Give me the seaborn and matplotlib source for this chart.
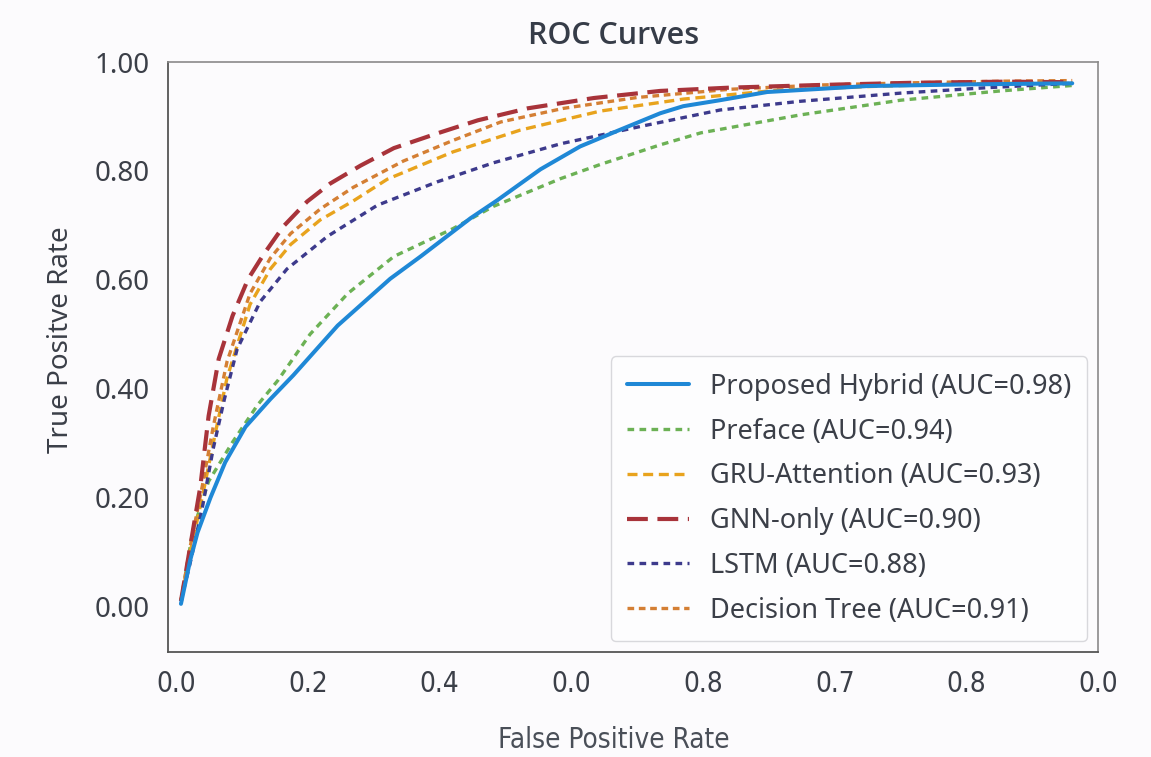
import numpy as np
import pandas as pd
import matplotlib
matplotlib.use("Agg")
import matplotlib.pyplot as plt
import seaborn as sns

# ---- data ----
models = ["Proposed Hybrid (AUC=0.98)", "Preface (AUC=0.94)", "GRU-Attention (AUC=0.93)",
          "GNN-only (AUC=0.90)", "LSTM (AUC=0.88)", "Decision Tree (AUC=0.91)"]

hybrid_fpr = [0.005, 0.015, 0.023, 0.037, 0.053, 0.075, 0.102, 0.127, 0.175, 0.232, 0.265, 0.319,
              0.348, 0.395, 0.438, 0.479, 0.525, 0.55, 0.59, 0.641, 0.75, 0.858, 0.972]
hybrid_tpr = [0.005, 0.085, 0.136, 0.2, 0.265, 0.33, 0.381, 0.425, 0.516, 0.602, 0.643, 0.713,
              0.746, 0.803, 0.845, 0.874, 0.906, 0.919, 0.93, 0.945, 0.956, 0.959, 0.961]

preface_fpr = [0.005, 0.018, 0.035, 0.061, 0.088, 0.11, 0.145, 0.186, 0.236, 0.3, 0.344,
               0.417, 0.46, 0.525, 0.569, 0.677, 0.786, 0.894, 0.972]
preface_tpr = [0.01, 0.14, 0.23, 0.302, 0.37, 0.415, 0.5, 0.575, 0.643, 0.694, 0.735,
               0.786, 0.812, 0.848, 0.87, 0.903, 0.93, 0.947, 0.957]

gru_fpr = [0.005, 0.015, 0.028, 0.04, 0.055, 0.08, 0.102, 0.124, 0.156, 0.192, 0.229,
           0.3, 0.373, 0.46, 0.55, 0.65, 0.75, 0.85, 0.972]
gru_tpr = [0.01, 0.1, 0.2, 0.3, 0.42, 0.555, 0.62, 0.665, 0.71, 0.745, 0.785,
           0.835, 0.875, 0.91, 0.932, 0.948, 0.955, 0.96, 0.962]

gnn_fpr = [0.005, 0.015, 0.026, 0.035, 0.046, 0.061, 0.078, 0.094, 0.116, 0.142, 0.167,
           0.2, 0.236, 0.283, 0.327, 0.381, 0.453, 0.525, 0.6, 0.7, 0.8, 0.9, 0.972]
gnn_tpr = [0.01, 0.11, 0.22, 0.35, 0.455, 0.534, 0.602, 0.645, 0.698, 0.744, 0.777,
           0.81, 0.842, 0.869, 0.893, 0.915, 0.934, 0.947, 0.953, 0.958, 0.962, 0.964, 0.963]

lstm_fpr = [0.005, 0.015, 0.028, 0.04, 0.052, 0.066, 0.091, 0.12, 0.164, 0.218, 0.283,
            0.344, 0.417, 0.507, 0.59, 0.677, 0.786, 0.88, 0.972]
lstm_tpr = [0.01, 0.08, 0.18, 0.29, 0.38, 0.473, 0.56, 0.62, 0.68, 0.737, 0.78,
            0.815, 0.85, 0.883, 0.912, 0.928, 0.943, 0.953, 0.961]

tree_fpr = [0.005, 0.015, 0.028, 0.04, 0.055, 0.08, 0.102, 0.124, 0.156, 0.192, 0.246,
            0.3, 0.352, 0.42, 0.5, 0.6, 0.7, 0.8, 0.9, 0.972]
tree_tpr = [0.01, 0.11, 0.22, 0.33, 0.45, 0.575, 0.64, 0.685, 0.73, 0.77, 0.818,
            0.856, 0.89, 0.915, 0.935, 0.95, 0.958, 0.962, 0.965, 0.966]

x_tick_labels = ["0.0", "0.2", "0.4", "0.0", "0.8", "0.7", "0.8", "0.0"]
y_tick_labels = ["0.00", "0.20", "0.40", "0.60", "0.80", "1.00"]

# ---- styling ----
sns.set_style("white")
plt.rcParams["font.family"] = ["Noto Sans", "DejaVu Sans"]
text_col = "#3b3f48"
bg = "#fcfbfd"
narrow = dict(family=["DejaVu Sans"], fontstretch="condensed")

curves = [
    (hybrid_fpr, hybrid_tpr, "#1f88d6", "-", 2.9, 6),
    (preface_fpr, preface_tpr, "#6cb155", (0, (2, 1.6)), 2.4, 3),
    (gru_fpr, gru_tpr, "#e8a31d", (0, (3, 1.7)), 2.4, 3),
    (gnn_fpr, gnn_tpr, "#a8333a", (0, (5, 2.3)), 3.0, 4),
    (lstm_fpr, lstm_tpr, "#3d3a8c", (0, (2, 1.6)), 2.4, 3),
    (tree_fpr, tree_tpr, "#d47f34", (0, (2, 1.4)), 2.4, 3),
]

fig = plt.figure(figsize=(11.51, 7.57), dpi=100, facecolor=bg)
ax = fig.add_axes([0.146, 0.139, 0.808, 0.779])
ax.set_facecolor(bg)

for (fx, ty, col, ls, lw, z), name in zip(curves, models):
    sns.lineplot(x=fx, y=ty, ax=ax, color=col, linestyle=ls, linewidth=lw,
                 label=name, zorder=z)

ax.set_xlim(-0.009, 1.0)
ax.set_ylim(-0.083, 1.0)
ax.set_xticks(np.linspace(0, 1, len(x_tick_labels)))
ax.set_xticklabels(x_tick_labels, fontsize=20, color=text_col, **narrow)
ax.set_yticks(np.linspace(0, 1, len(y_tick_labels)))
ax.set_yticklabels(y_tick_labels, fontsize=20, color=text_col)
ax.tick_params(axis="both", direction="out", length=7, width=1.1, color="#555555", pad=6)

for side in ["left", "bottom"]:
    ax.spines[side].set_color("#555555")
    ax.spines[side].set_linewidth(1.3)
for side in ["top", "right"]:
    ax.spines[side].set_color("#8a8a8a")
    ax.spines[side].set_linewidth(1.2)

ax.set_title("ROC Curves", fontsize=22, fontweight="semibold", color="#363c48",
             x=0.479, pad=13, family=["Open Sans", "DejaVu Sans"])
ax.set_xlabel("False Positive Rate", fontsize=20, color="#4a4f58", labelpad=20,
              x=0.479, **narrow)
ax.set_ylabel("True Positve Rate", fontsize=20, color=text_col, labelpad=16)
ax.yaxis.set_label_coords(-0.1, 0.53)

# legend handles longer, light frame
leg = ax.legend(loc="lower right", fontsize=19.5, handlelength=2.3, labelspacing=0.62,
                frameon=True, fancybox=True, borderpad=0.6, handletextpad=0.75,
                borderaxespad=0.4)
leg.get_frame().set_edgecolor("#d8d8dc")
leg.get_frame().set_facecolor("#fdfdfe")
leg.get_frame().set_alpha(1)
for t in leg.get_texts():
    t.set_color(text_col)

fig.savefig("out.png", dpi=100, facecolor=bg)
